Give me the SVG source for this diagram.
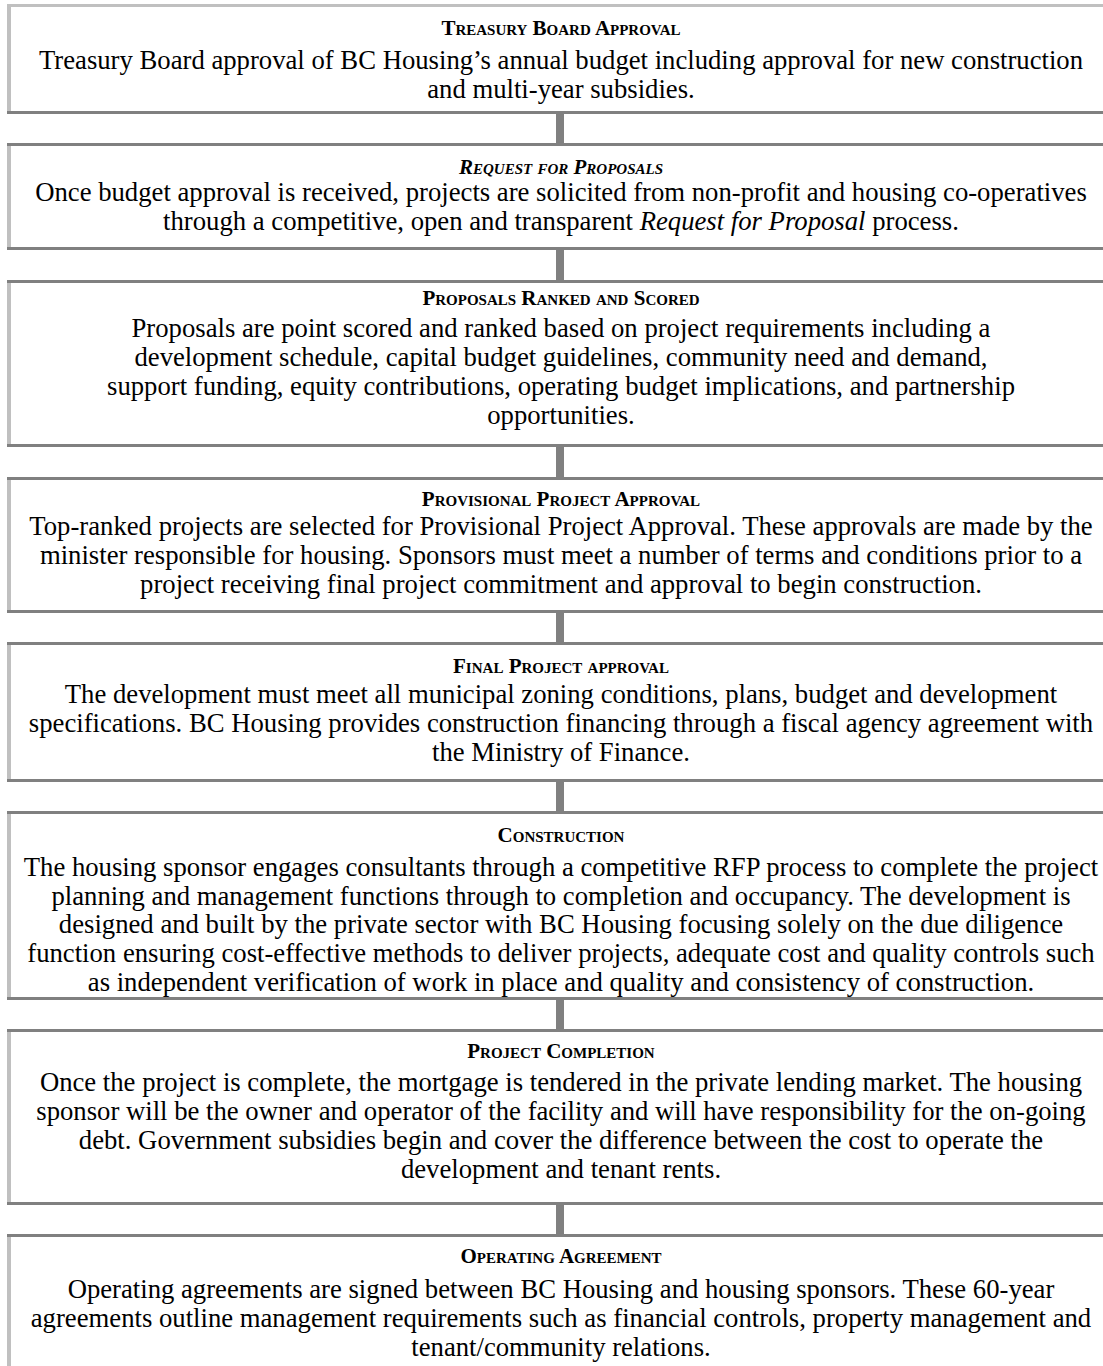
<svg xmlns="http://www.w3.org/2000/svg" width="1103" height="1366" viewBox="0 0 1103 1366">
<style>
.bg{fill:#ffffff}
.lt{fill:#c0c0c0}
.dk{fill:#808080}
.title{font-family:"Liberation Serif","Times New Roman",serif;font-size:21px;font-weight:bold;font-variant:small-caps;fill:#000;text-anchor:middle}
.body{font-family:"Liberation Serif","Times New Roman",serif;font-size:26.7px;fill:#000;text-anchor:middle}
.it{font-style:italic}
</style>
<rect class="bg" x="0" y="0" width="1103" height="1366"/>
<g id="connectors">
<rect class="dk" x="556" y="114" width="8" height="30"/>
<rect class="dk" x="556" y="250" width="8" height="31"/>
<rect class="dk" x="556" y="447" width="8" height="31"/>
<rect class="dk" x="556" y="613" width="8" height="30"/>
<rect class="dk" x="556" y="782" width="8" height="30"/>
<rect class="dk" x="556" y="1000" width="8" height="30"/>
<rect class="dk" x="556" y="1205" width="8" height="30"/>
</g>
<g id="treasury-board-approval">
<rect class="lt" x="7" y="4" width="4" height="108"/>
<rect class="lt" x="7" y="4" width="1096" height="3"/>
<rect class="dk" x="7" y="111" width="1096" height="3"/>
<text class="title" x="561" y="35">Treasury Board Approval</text>
<text class="body" x="561" y="69">Treasury Board approval of BC Housing’s annual budget including approval for new construction</text>
<text class="body" x="561" y="98">and multi-year subsidies.</text>
</g>
<g id="request-for-proposals">
<rect class="lt" x="7" y="146" width="4" height="101"/>
<rect class="dk" x="7" y="143" width="1096" height="3"/>
<rect class="dk" x="7" y="247" width="1096" height="3"/>
<text class="title it" x="561" y="174">Request for Proposals</text>
<text class="body" x="561" y="201">Once budget approval is received, projects are solicited from non-profit and housing co-operatives</text>
<text class="body" x="561" y="230">through a competitive, open and transparent <tspan class="it">Request for Proposal</tspan> process.</text>
</g>
<g id="proposals-ranked-and-scored">
<rect class="lt" x="7" y="283" width="4" height="161"/>
<rect class="dk" x="7" y="280" width="1096" height="3"/>
<rect class="dk" x="7" y="444" width="1096" height="3"/>
<text class="title" x="561" y="305">Proposals Ranked and Scored</text>
<text class="body" x="561" y="337">Proposals are point scored and ranked based on project requirements including a</text>
<text class="body" x="561" y="366">development schedule, capital budget guidelines, community need and demand,</text>
<text class="body" x="561" y="395">support funding, equity contributions, operating budget implications, and partnership</text>
<text class="body" x="561" y="424">opportunities.</text>
</g>
<g id="provisional-project-approval">
<rect class="lt" x="7" y="480" width="4" height="130"/>
<rect class="dk" x="7" y="477" width="1096" height="3"/>
<rect class="dk" x="7" y="610" width="1096" height="3"/>
<text class="title" x="561" y="506">Provisional Project Approval</text>
<text class="body" x="561" y="535">Top-ranked projects are selected for Provisional Project Approval. These approvals are made by the</text>
<text class="body" x="561" y="564">minister responsible for housing. Sponsors must meet a number of terms and conditions prior to a</text>
<text class="body" x="561" y="593">project receiving final project commitment and approval to begin construction.</text>
</g>
<g id="final-project-approval">
<rect class="lt" x="7" y="645" width="4" height="134"/>
<rect class="dk" x="7" y="642" width="1096" height="3"/>
<rect class="dk" x="7" y="779" width="1096" height="3"/>
<text class="title" x="561" y="673">Final Project approval</text>
<text class="body" x="561" y="703">The development must meet all municipal zoning conditions, plans, budget and development</text>
<text class="body" x="561" y="732">specifications. BC Housing provides construction financing through a fiscal agency agreement with</text>
<text class="body" x="561" y="761">the Ministry of Finance.</text>
</g>
<g id="construction">
<rect class="lt" x="7" y="814" width="4" height="183"/>
<rect class="dk" x="7" y="811" width="1096" height="3"/>
<rect class="dk" x="7" y="997" width="1096" height="3"/>
<text class="title" x="561" y="842">Construction</text>
<text class="body" x="561" y="876">The housing sponsor engages consultants through a competitive RFP process to complete the project</text>
<text class="body" x="561" y="904.7">planning and management functions through to completion and occupancy. The development is</text>
<text class="body" x="561" y="933.4">designed and built by the private sector with BC Housing focusing solely on the due diligence</text>
<text class="body" x="561" y="962">function ensuring cost-effective methods to deliver projects, adequate cost and quality controls such</text>
<text class="body" x="561" y="990.5">as independent verification of work in place and quality and consistency of construction.</text>
</g>
<g id="project-completion">
<rect class="lt" x="7" y="1032" width="4" height="170"/>
<rect class="dk" x="7" y="1029" width="1096" height="3"/>
<rect class="dk" x="7" y="1202" width="1096" height="3"/>
<text class="title" x="561" y="1058">Project Completion</text>
<text class="body" x="561" y="1091">Once the project is complete, the mortgage is tendered in the private lending market. The housing</text>
<text class="body" x="561" y="1120">sponsor will be the owner and operator of the facility and will have responsibility for the on-going</text>
<text class="body" x="561" y="1149">debt. Government subsidies begin and cover the difference between the cost to operate the</text>
<text class="body" x="561" y="1178">development and tenant rents.</text>
</g>
<g id="operating-agreement">
<rect class="lt" x="7" y="1237" width="4" height="129"/>
<rect class="dk" x="7" y="1234" width="1096" height="3"/>
<text class="title" x="561" y="1263">Operating Agreement</text>
<text class="body" x="561" y="1298">Operating agreements are signed between BC Housing and housing sponsors. These 60-year</text>
<text class="body" x="561" y="1327">agreements outline management requirements such as financial controls, property management and</text>
<text class="body" x="561" y="1356">tenant/community relations.</text>
</g>
</svg>
